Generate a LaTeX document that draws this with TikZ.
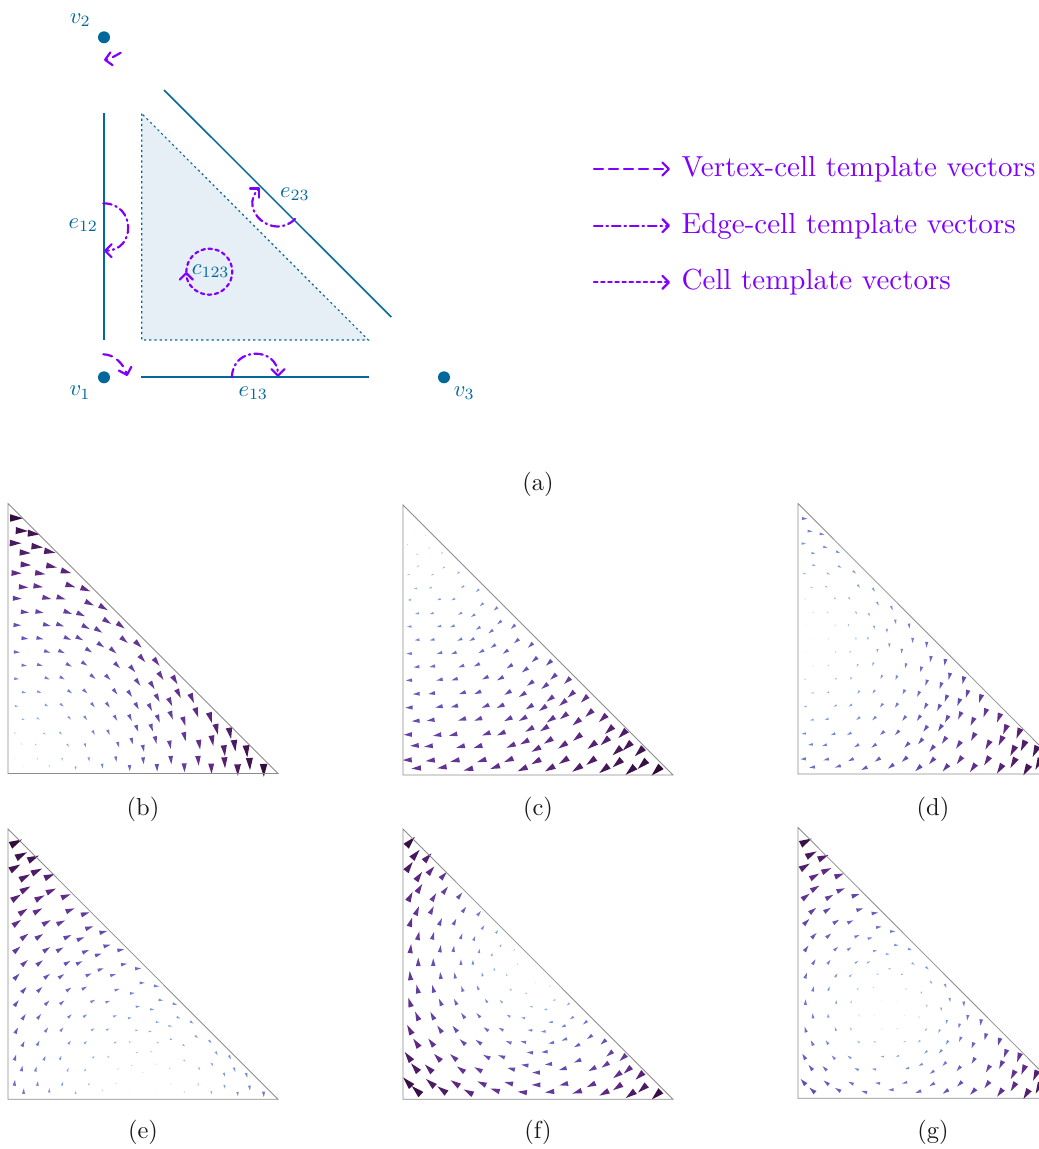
\documentclass[tikz,border=0pt]{standalone}
\usetikzlibrary{arrows.meta}
\definecolor{edgeblue}{HTML}{00689B}
\definecolor{cellfill}{HTML}{E6EFF5}
\definecolor{tvec}{HTML}{8000FF}
\definecolor{meshgray}{HTML}{8C8C8C}
\tikzset{
  declare function={pw(\t,\a,\b,\c,\d,\e)=\t<.25?\a+(\b-\a)*\t*4:(\t<.5?\b+(\c-\b)*(\t-.25)*4:(\t<.75?\c+(\d-\c)*(\t-.5)*4:\d+(\e-\d)*(\t-.75)*4));},
  tvarrow/.style={draw=tvec,line width=2.2pt,line cap=round,-{Straight Barb[length=6.5pt,width=13pt,round,line width=2.2pt]}},
  vertexdash/.style={tvarrow,dash pattern=on 9pt off 6pt},
  edgedash/.style={tvarrow,dash pattern=on 8.5pt off 4pt on 1.5pt off 4pt},
  celldash/.style={tvarrow,dash pattern=on 3.5pt off 3.6pt},
  simplex/.style={draw=edgeblue,line width=1.5pt},
  vdot/.style={circle,fill=edgeblue,inner sep=0pt,minimum size=12pt},
  lab/.style={text=edgeblue,scale=2.25},
  legendtext/.style={text=tvec,anchor=base west,inner sep=0pt,scale=2.9},
  capt/.style={text=black!90,scale=2.45},
  meshline/.style={draw=meshgray,line width=0.8pt}
}
\newcommand{\qpoints}{50/69,66/107,102/116,47/144,112/155,150/170,76/173,78/209,155/214,199/230,50/234,121/235,71/276,115/274,212/272,257/283,52/310,141/309,184/309,269/325,311/338,75/351,119/351,204/352,243/358,322/379,363/392,52/390,141/390,181/390,258/396,296/406,373/435,415/448,75/430,120/430,203/430,239/430,303/450,340/467,427/491,470/501,51/471,142/470,185/470,267/466,352/511,398/522,483/543,525/555,73/511,120/510,207/510,254/506,414/562,457/571,536/596,576/610,50/551,142/550,187/549,279/545,324/547,346/590,390/596,473/609,511/621,590/653,631/668,72/592,118/591,210/590,256/589,411/633,451/637,552/679,650/703,690/715,50/633,140/631,186/630,279/630,324/630,475/671,514/661,554/725,637/737,704/752,70/673,115/671,209/669,257/669,347/669,391/668,411/700,455/698,598/749,673/767,740/769,46/714,134/716,182/715,281/713,326/712,467/735,510/749,674/803,749/807,66/747,108/749,204/751,256/751,355/749,396/738,430/760,595/797,44/790,113/792,187/793,267/793,348/792,430/797,513/795,791/826,71/815,148/813,227/819,307/813,389/819,471/818,553/818,634/821,713/825}
% #1 #2 origin (px), #3 top y, #4 centre x of rotation, #5 centre y, #6 max magnitude
\newcommand{\quiverpanel}[6]{%
  \foreach \za/\zb in \qpoints {%
    \pgfmathsetmacro{\uu}{(\za-24)/810}%
    \pgfmathsetmacro{\vv}{(835-\zb)/810}%
    \pgfmathsetmacro{\pu}{\uu-0.013*\vv}%
    \pgfmathsetmacro{\pv}{\vv+0.013*\uu}%
    \pgfmathsetmacro{\fx}{\pv-#5}%
    \pgfmathsetmacro{\fy}{#4-\pu}%
    \pgfmathsetmacro{\mg}{min(1,sqrt(\fx*\fx+\fy*\fy)/#6)}%
    \pgfmathsetmacro{\lx}{13.6*\fx/#6}%
    \pgfmathsetmacro{\ly}{13.6*\fy/#6}%
    \pgfmathsetmacro{\cr}{pw(\mg,.80,.48,.40,.38,.15)}%
    \pgfmathsetmacro{\cg}{pw(\mg,.87,.66,.34,.16,.02)}%
    \pgfmathsetmacro{\cb}{pw(\mg,.94,.88,.74,.52,.16)}%
    \definecolor{qc}{rgb}{\cr,\cg,\cb}%
    \fill[qc] ({#1+270*\pu-.25*\lx-.29*\ly},{#2-270*\pv+.25*\ly-.29*\lx})
       -- ({#1+270*\pu-.25*\lx+.29*\ly},{#2-270*\pv+.25*\ly+.29*\lx})
       -- ({#1+270*\pu+.75*\lx},{#2-270*\pv-.75*\ly}) -- cycle;
  }%
  \draw[meshline] (#1,#3) -- (#1,#2) -- ({#1+270},#2) -- cycle;
}
\begin{document}
\begin{tikzpicture}[x=1pt,y=-1pt]
\path[use as bounding box] (0,0) rectangle (1039,1149);
\clip (0,0) rectangle (1039,1149);
% cell
\coordinate (c1) at (141.7,113.5);
\coordinate (c2) at (141.7,340);
\coordinate (c3) at (368.3,340);
\fill[cellfill] (c1) -- (c2) -- (c3) -- cycle;
\draw[edgeblue,line width=1.1pt,dash pattern=on 2.2pt off 3pt] (c1) -- (c2) -- (c3) -- cycle;
% edges
\coordinate (e12a) at (104,113); \coordinate (e12b) at (104,340);
\coordinate (e23a) at (164,90); \coordinate (e23b) at (391.3,317);
\coordinate (e13a) at (141,377); \coordinate (e13b) at (368.7,377);
\draw[simplex] (e12a) -- (e12b);
\draw[simplex] (e23a) -- (e23b);
\draw[simplex,line width=2pt] (e13a) -- (e13b);
% vertices
\node[vdot] (v1) at (104,377.3) {};
\node[vdot] (v2) at (104,37.3) {};
\node[vdot] (v3) at (444,377.3) {};
\node[lab] (lv1) at (80,392.7) {$v_1$};
\node[lab] (lv2) at (80.3,20) {$v_2$};
\node[lab] (lv3) at (464.3,393.3) {$v_3$};
\node[lab] (le12) at (83.3,225) {$e_{12}$};
\node[lab] (le13) at (253.3,393.3) {$e_{13}$};
\node[lab] (le23) at (295,194.3) {$e_{23}$};
\node[lab] (lc) at (210.7,271) {$c_{123}$};
% template vectors
\coordinate (a1) at (120.7,52.7); \coordinate (a2) at (104,60);
\draw[vertexdash] (a1) .. controls (115,56) and (110,59) .. (a2);
\coordinate (b1) at (103.3,354.3); \coordinate (b2) at (127.3,376);
\draw[vertexdash] (b1) .. controls (115,354.3) and (124,365) .. (b2);
\coordinate (d1) at (103.3,203.3); \coordinate (d2) at (104,250.7);
\draw[edgedash] (d1) .. controls (136,203.3) and (136,250.7) .. (d2);
\coordinate (f1) at (232,377.3); \coordinate (f2) at (278,376.7);
\draw[edgedash] (f1) .. controls (232,346.3) and (278,346.3) .. (f2);
\coordinate (g1) at (295,219); \coordinate (g2) at (260,187.7);
\draw[edgedash] (g1) .. controls (273,241) and (238,209.7) .. (g2);
\coordinate (h0) at (186.3,272); \coordinate (h1) at (209.3,248.7); \coordinate (h2) at (232.3,271.7); \coordinate (h3) at (209.3,294.7);
\draw[celldash] (h0) .. controls (186.3,259) and (196.6,248.7) .. (h1)
  .. controls (222,248.7) and (232.3,259) .. (h2)
  .. controls (232.3,284.4) and (222,294.7) .. (h3)
  .. controls (196.6,294.7) and (186.3,284.4) .. (h0);
% legend
\coordinate (l1a) at (594,169); \coordinate (l1b) at (670,169);
\coordinate (l2a) at (594,225.7); \coordinate (l2b) at (670,225.7);
\coordinate (l3a) at (594,282.3); \coordinate (l3b) at (670,282.3);
\draw[vertexdash] (l1a) -- (l1b);
\draw[edgedash] (l2a) -- (l2b);
\draw[celldash] (l3a) -- (l3b);
\node[legendtext] (t1) at (681,176.5) {Vertex-cell template vectors};
\node[legendtext] (t2) at (681,233.2) {Edge-cell template vectors};
\node[legendtext] (t3) at (681,289.8) {Cell template vectors};
% quivers
\quiverpanel{8}{773.5}{503.5}{0}{0}{1}
\quiverpanel{403}{775}{505}{0}{1}{1.414}
\quiverpanel{798}{774}{503.5}{0}{.5}{1.118}
\quiverpanel{8}{1099.3}{829}{.5}{0}{1.118}
\quiverpanel{403}{1099.3}{829}{.5}{.5}{.707}
\quiverpanel{798}{1098.3}{827.5}{.3333}{.3333}{.745}
% captions
\node[capt] (ca) at (538,484) {(a)};
\node[capt] (cb) at (143,809) {(b)};
\node[capt] (cc) at (538,809) {(c)};
\node[capt] (cd) at (933,809) {(d)};
\node[capt] (ce) at (143,1132) {(e)};
\node[capt] (cf) at (538,1132) {(f)};
\node[capt] (cg) at (933,1132) {(g)};
\end{tikzpicture}
\end{document}
